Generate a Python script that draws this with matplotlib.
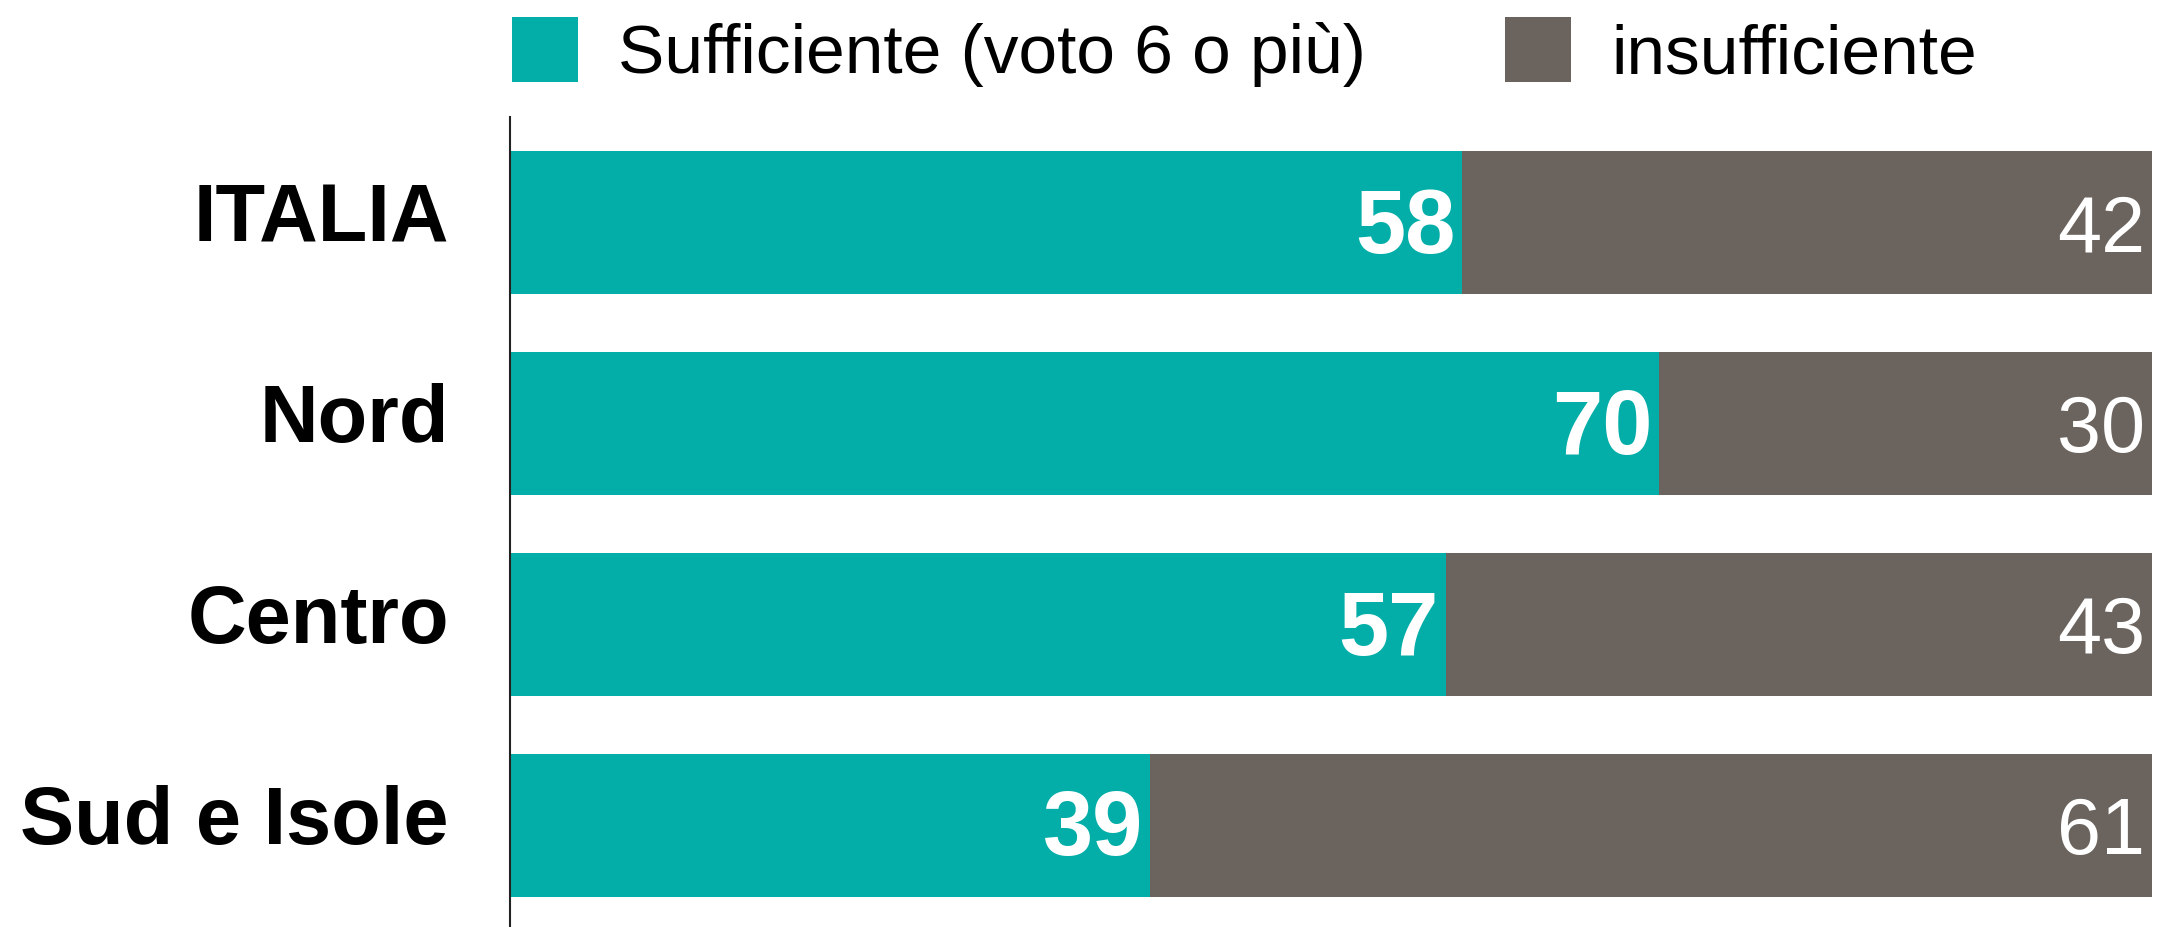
import matplotlib
matplotlib.use("Agg")
import matplotlib.pyplot as plt
from matplotlib.patches import Patch
from matplotlib.transforms import ScaledTranslation

plt.rcParams['font.family'] = ['Liberation Sans', 'DejaVu Sans']

# dati
aree = ["ITALIA", "Nord", "Centro", "Sud e Isole"]
sufficiente = [58, 70, 57, 39]
insufficiente = [42, 30, 43, 61]
legenda = ["Sufficiente (voto 6 o più)", "insufficiente"]

TEAL = "#03AEA8"
BROWN = "#6B635D"

fig = plt.figure(figsize=(21.6, 9.27), dpi=100)
ax = fig.add_axes([510 / 2160, 0, (2152 - 510) / 2160, 1 - 117 / 927])

ypos = list(range(len(aree)))
ax.barh(ypos, sufficiente, height=0.7125, color=TEAL, linewidth=0)
ax.barh(ypos, insufficiente, left=sufficiente, height=0.7125, color=BROWN, linewidth=0)

for y, s, i in zip(ypos, sufficiente, insufficiente):
    ax.annotate(str(s), xy=(s, y), xytext=(-5, -5), textcoords="offset points",
                ha="right", va="center", color="white", fontsize=65, fontweight="bold")
    ax.annotate(str(i), xy=(s + i, y), xytext=(-5, -6), textcoords="offset points",
                ha="right", va="center", color="white", fontsize=57)

ax.set_xlim(0, 100)
ax.set_ylim(3.508, -0.528)
ax.set_yticks(ypos)
ax.set_yticklabels(aree, fontsize=58.5, fontweight="bold")
ax.tick_params(axis="y", length=0, pad=44)
# etichette un po' più in alto del centro barra
for lbl in ax.get_yticklabels():
    lbl.set_transform(lbl.get_transform() + ScaledTranslation(0, 0.11, fig.dpi_scale_trans))
ax.set_xticks([])
for side in ["top", "right", "bottom"]:
    ax.spines[side].set_visible(False)
ax.spines["left"].set_linewidth(1.5)
ax.spines["left"].set_color("#222222")

handles = [Patch(facecolor=TEAL), Patch(facecolor=BROWN)]
fig.legend(handles, legenda, loc="center left", bbox_to_anchor=(512 / 2160, 1 - 52 / 927),
           ncol=2, frameon=False, fontsize=50, borderpad=0, borderaxespad=0,
           handlelength=0.95, handleheight=1.06, handletextpad=0.58, columnspacing=2.0)

fig.savefig("out.png", dpi=100)
